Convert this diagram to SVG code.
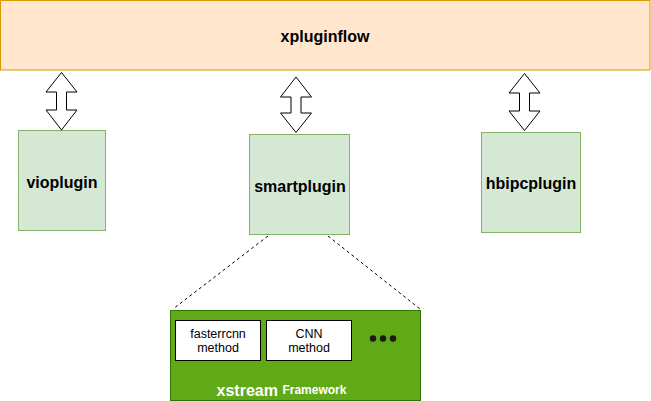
<svg xmlns="http://www.w3.org/2000/svg" width="651" height="401" viewBox="0 0 651 401">
<style>
.t{font-family:"Liberation Sans",Arial,sans-serif;font-weight:bold;text-anchor:middle;dominant-baseline:central}
.n{font-family:"Liberation Sans",Arial,sans-serif;font-weight:normal;text-anchor:middle;dominant-baseline:central;font-size:12.5px;fill:#000}
.plug{fill:#d5e8d4;stroke:#82b366;stroke-width:1}
.arr{fill:#ffffff;stroke:#000000;stroke-width:1}
.dot{fill:none;stroke:#000000;stroke-width:1;stroke-dasharray:3 3}
.m{fill:#ffffff;stroke:#000000;stroke-width:1}
</style>
<rect width="651" height="401" fill="#ffffff"/>
<g id="xpluginflow">
<rect x="0.5" y="0.5" width="649.5" height="69.5" fill="#ffe6cc" stroke="#d79b00"/>
<text class="t" x="325" y="36.5" font-size="16" fill="#000">xpluginflow</text>
</g>
<g id="vioplugin">
<rect class="plug" x="18.5" y="130.5" width="87" height="100"/>
<text class="t" x="62" y="182" font-size="16" fill="#000">vioplugin</text>
</g>
<g id="smartplugin">
<rect class="plug" x="249.5" y="134.5" width="100" height="100"/>
<text class="t" x="300" y="186" font-size="16" fill="#000">smartplugin</text>
</g>
<g id="hbipcplugin">
<rect class="plug" x="481.5" y="132.5" width="99" height="100"/>
<text class="t" x="531" y="183" font-size="16" fill="#000">hbipcplugin</text>
</g>
<g id="connectors">
<path class="arr" d="M61.5,72.5 L77,92 L66.5,92 L66.5,110 L77,110 L61.5,130 L46,110 L56.5,110 L56.5,92 L46,92 Z"/>
<path class="arr" d="M296,77 L311.5,97 L301,97 L301,113 L311.5,113 L296,132.5 L280.5,113 L291,113 L291,97 L280.5,97 Z"/>
<path class="arr" d="M524.5,73.5 L540,93 L529.5,93 L529.5,111 L540,111 L524.5,130.5 L509,111 L519.5,111 L519.5,93 L509,93 Z"/>
<line class="dot" x1="268" y1="236" x2="173" y2="309"/>
<line class="dot" x1="328" y1="236" x2="420" y2="309"/>
</g>
<g id="xstream">
<rect x="170.5" y="310.5" width="250" height="90" fill="#60a917" stroke="#2d7600"/>
<text class="t" x="281.5" y="390" fill="#ffffff"><tspan font-size="16">xstream </tspan><tspan font-size="12">Framework</tspan></text>
</g>
<g id="fasterrcnn">
<rect class="m" x="175.5" y="320.5" width="85" height="40"/>
<text class="n" x="218" y="333.5">fasterrcnn</text>
<text class="n" x="218" y="347.5">method</text>
</g>
<g id="cnn">
<rect class="m" x="266.5" y="320.5" width="85" height="40"/>
<text class="n" x="309" y="333.5">CNN</text>
<text class="n" x="309" y="347.5">method</text>
</g>
<g id="dots">
<circle cx="373" cy="338.5" r="3.2" fill="#1a1a1a"/>
<circle cx="383" cy="338.5" r="3.2" fill="#1a1a1a"/>
<circle cx="393" cy="338.5" r="3.2" fill="#1a1a1a"/>
</g>
</svg>
